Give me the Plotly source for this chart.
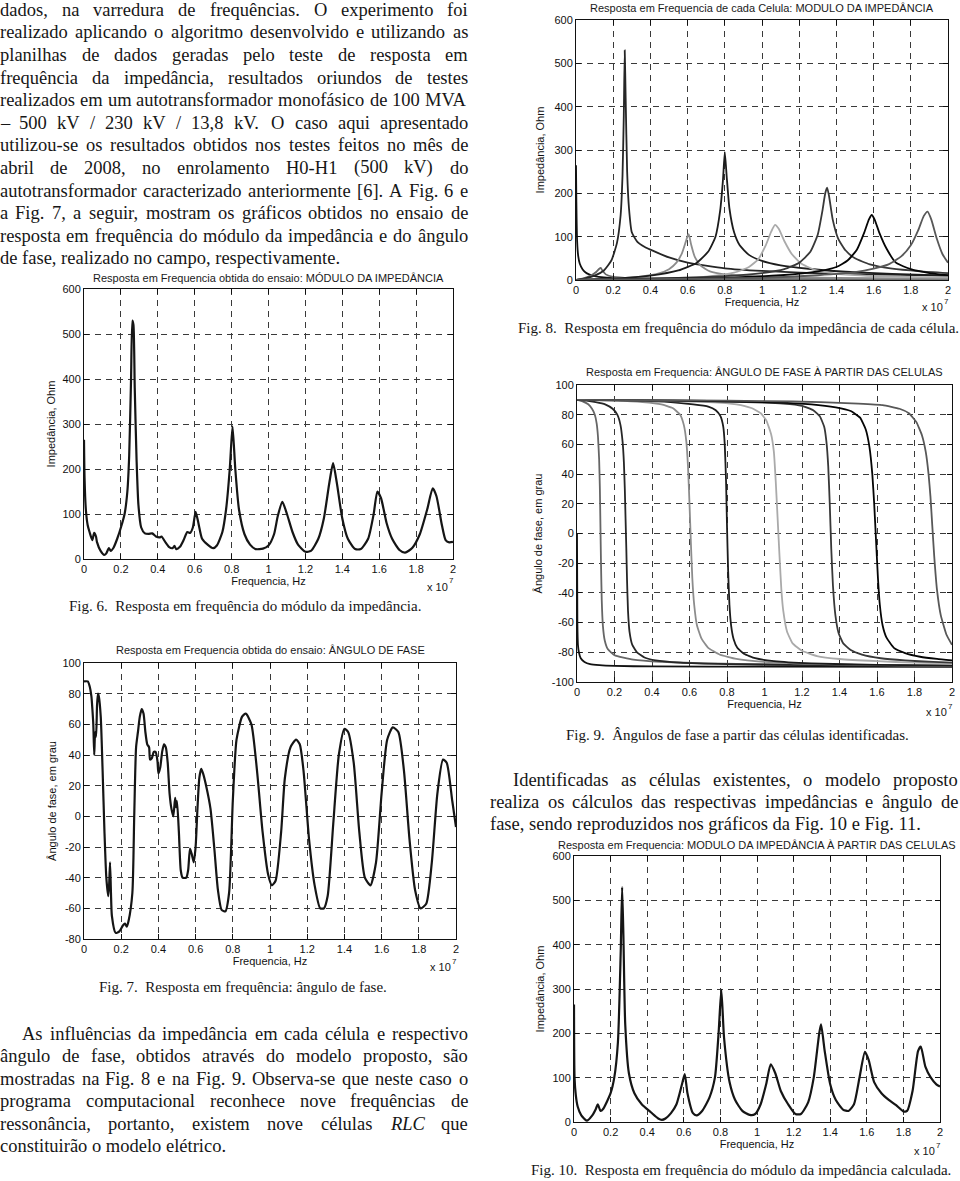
import unicodedata
import plotly.graph_objects as go

W, H = 960, 1181

# ---------------- data (frequency in units of 1e7 Hz) ----------------
xtick_vals = [0, 0.2, 0.4, 0.6, 0.8, 1.0, 1.2, 1.4, 1.6, 1.8, 2.0]
xtick_text = ["0", "0.2", "0.4", "0.6", "0.8", "1", "1.2", "1.4", "1.6", "1.8", "2"]
ytick_imp = [0, 100, 200, 300, 400, 500, 600]
ytick_ang7 = [-80, -60, -40, -20, 0, 20, 40, 60, 80, 100]
ytick_ang9 = [-100, -80, -60, -40, -20, 0, 20, 40, 60, 80, 100]

# Fig. 6 measured impedance magnitude
f6 = [0, 0.003, 0.01, 0.02, 0.03, 0.045, 0.055, 0.065, 0.07, 0.09, 0.11, 0.12, 0.135, 0.145,
      0.16, 0.18, 0.2, 0.22, 0.235, 0.245, 0.255, 0.262, 0.268, 0.275, 0.285, 0.295, 0.31,
      0.33, 0.35, 0.37, 0.39, 0.41, 0.42, 0.44, 0.46, 0.48, 0.49, 0.5, 0.52, 0.54, 0.56,
      0.575, 0.59, 0.605, 0.62, 0.64, 0.67, 0.7, 0.72, 0.75, 0.77, 0.79, 0.805, 0.82, 0.84,
      0.87, 0.9, 0.93, 0.97, 1.0, 1.03, 1.05, 1.075, 1.1, 1.13, 1.16, 1.2, 1.23, 1.27, 1.3,
      1.33, 1.35, 1.37, 1.4, 1.43, 1.47, 1.5, 1.54, 1.57, 1.59, 1.61, 1.64, 1.67, 1.71, 1.74,
      1.78, 1.82, 1.86, 1.89, 1.91, 1.94, 1.96, 1.98, 2.0]
z6 = [265, 180, 110, 75, 60, 42, 58, 50, 38, 18, 9, 12, 24, 18,
      25, 45, 70, 100, 150, 230, 400, 530, 520, 380, 220, 120, 70,
      57, 56, 57, 50, 48, 50, 38, 27, 24, 29, 22, 27, 42, 60,
      58, 70, 105, 80, 45, 32, 24, 30, 60, 110, 200, 295, 200, 110,
      55, 32, 22, 23, 30, 55, 95, 127, 100, 60, 32, 16, 18, 45, 90,
      170, 213, 170, 90, 45, 22, 22, 45, 100, 150, 135, 80, 45, 20, 14,
      25, 55, 110, 157, 140, 75, 42, 37, 38]

# Fig. 7 measured phase angle
f7 = [0, 0.02, 0.03, 0.04, 0.045, 0.05, 0.055, 0.06, 0.065, 0.07, 0.075, 0.08, 0.09, 0.1,
      0.11, 0.12, 0.13, 0.135, 0.14, 0.145, 0.15, 0.17, 0.19, 0.21, 0.22, 0.23, 0.24, 0.26,
      0.27, 0.28, 0.29, 0.3, 0.31, 0.32, 0.33, 0.34, 0.35, 0.355, 0.365, 0.375, 0.385, 0.395,
      0.4, 0.41, 0.42, 0.43, 0.44, 0.45, 0.46, 0.47, 0.48, 0.49, 0.495, 0.5, 0.51, 0.52, 0.53,
      0.55, 0.56, 0.57, 0.58, 0.59, 0.6, 0.61, 0.62, 0.63, 0.64, 0.66, 0.68, 0.7, 0.72, 0.74,
      0.76, 0.78, 0.8, 0.82, 0.85, 0.87, 0.9, 0.93, 0.96, 0.99, 1.01, 1.03, 1.06, 1.08, 1.11,
      1.14, 1.16, 1.18, 1.21, 1.24, 1.27, 1.29, 1.31, 1.34, 1.37, 1.4, 1.42, 1.45, 1.48, 1.51,
      1.54, 1.57, 1.6, 1.63, 1.66, 1.69, 1.72, 1.75, 1.78, 1.81, 1.84, 1.87, 1.9, 1.93, 1.95,
      1.98, 2.0]
a7 = [88, 88, 85, 78, 70, 60, 40, 55, 52, 72, 80, 78, 65, 30,
      -10, -40, -52, -45, -30, -50, -65, -76, -75, -71, -70, -72, -68, -50,
      0, 45, 55, 65, 70, 67, 55, 47, 45, 37, 38, 42, 42, 36,
      28, 32, 42, 47, 45, 35, 15, 5, 0, 12, 6, 10, -10, -35, -40,
      -40, -35, -21, -25, -30, -20, 5, 25, 31, 28, 18, 5, -20, -48, -61,
      -62, -50, 10, 50, 65, 67, 60, 30, -10, -38, -45, -42, -10, 25, 45,
      50, 47, 30, -15, -45, -60, -60, -52, -5, 40, 57, 55, 35, -10, -40,
      -45, -30, 15, 50, 58, 55, 30, -15, -48, -60, -57, -30, 15, 37, 35,
      10, -7]

# Fig. 8 impedance of each identified cell
c1_f = [0, 0.002, 0.006, 0.012, 0.02, 0.035, 0.05, 0.07, 0.1, 0.15, 0.25, 0.4, 0.7, 1.0, 1.5, 2.0]
c1_z = [265, 180, 90, 55, 38, 25, 18, 13, 9, 6, 4, 3, 2, 1.5, 1, 0.8]
c2_f = [0, 0.04, 0.08, 0.11, 0.125, 0.133, 0.14, 0.16, 0.2, 0.3, 0.5, 1.0, 2.0]
c2_z = [0, 4, 10, 19, 26, 28, 23, 13, 7, 4, 2.5, 1.5, 1]
c3_f = [0, 0.05, 0.1, 0.15, 0.19, 0.22, 0.24, 0.25, 0.257, 0.262, 0.267, 0.275, 0.285, 0.3,
        0.33, 0.37, 0.4, 0.5, 0.6, 0.8, 1.0, 1.4, 2.0]
c3_z = [0, 4, 10, 22, 45, 85, 150, 240, 380, 530, 420, 250, 165, 110,
        88, 76, 70, 52, 40, 27, 21, 14, 10]
c4_f = [0, 0.2, 0.35, 0.45, 0.5, 0.54, 0.57, 0.59, 0.6, 0.605, 0.61, 0.62, 0.64, 0.67, 0.72,
        0.8, 0.95, 1.2, 1.6, 2.0]
c4_z = [0, 3, 8, 16, 25, 40, 62, 88, 102, 106, 100, 80, 52, 33, 20, 13, 9, 6, 4, 3]
c5_f = [0, 0.2, 0.4, 0.55, 0.65, 0.71, 0.75, 0.775, 0.79, 0.8, 0.81, 0.825, 0.85, 0.88, 0.93,
        1.0, 1.1, 1.25, 1.45, 1.7, 2.0]
c5_z = [0, 3, 10, 22, 40, 65, 100, 160, 230, 295, 240, 165, 110, 80, 58, 44, 34, 26, 19, 14, 10]
c6_f = [0, 0.4, 0.7, 0.85, 0.93, 0.98, 1.02, 1.05, 1.07, 1.09, 1.12, 1.16, 1.21, 1.28, 1.4, 1.6, 2.0]
c6_z = [0, 3, 8, 17, 30, 48, 80, 112, 127, 118, 90, 60, 38, 24, 14, 9, 6]
c7_f = [0, 0.5, 0.8, 1.0, 1.12, 1.2, 1.26, 1.3, 1.325, 1.34, 1.35, 1.36, 1.38, 1.41, 1.45,
        1.5, 1.58, 1.7, 1.85, 2.0]
c7_z = [0, 4, 9, 16, 25, 40, 65, 105, 160, 200, 213, 195, 140, 95, 68, 50, 36, 26, 20, 16]
c8_f = [0, 0.8, 1.1, 1.3, 1.4, 1.46, 1.51, 1.55, 1.575, 1.59, 1.605, 1.63, 1.67, 1.72, 1.8, 1.9, 2.0]
c8_z = [0, 5, 11, 20, 30, 45, 70, 110, 140, 150, 140, 110, 72, 40, 25, 16, 11]
c9_f = [0, 1.0, 1.3, 1.5, 1.6, 1.68, 1.75, 1.8, 1.84, 1.87, 1.89, 1.91, 1.94, 1.97, 2.0]
c9_z = [0, 5, 11, 18, 26, 36, 55, 80, 115, 148, 158, 140, 95, 60, 40]

# Fig. 9 phase angle of each identified cell
p1_f = [0, 0.002, 0.005, 0.01, 0.02, 0.04, 0.07, 0.12, 0.2, 0.4, 1.0, 2.0]
p1_a = [0, -60, -75, -80, -84, -86.5, -88, -88.7, -89.2, -89.5, -89.7, -89.8]
p2_f = [0, 0.03, 0.06, 0.08, 0.095, 0.105, 0.112, 0.118, 0.122, 0.125, 0.128, 0.132, 0.138,
        0.148, 0.165, 0.2, 0.3, 0.45, 0.7, 1.0, 1.5, 2.0]
p2_a = [90, 89, 87, 84, 80, 74, 65, 50, 30, 5, -20, -45, -62, -72, -78, -82, -85, -86.5,
        -87.5, -88, -88.5, -89]
p3_f = [0, 0.05, 0.1, 0.15, 0.19, 0.215, 0.232, 0.243, 0.25, 0.255, 0.259, 0.263, 0.267,
        0.272, 0.28, 0.295, 0.32, 0.36, 0.42, 0.55, 0.8, 1.2, 2.0]
p3_a = [90, 89.5, 88.5, 87, 84, 80, 73, 62, 48, 30, 10, -10, -32, -52, -66, -75, -80, -83.5,
        -85.5, -87, -88, -88.7, -89.3]
p4_f = [0, 0.2, 0.35, 0.45, 0.51, 0.55, 0.57, 0.583, 0.592, 0.6, 0.607, 0.615, 0.625, 0.64,
        0.665, 0.7, 0.76, 0.85, 1.0, 1.3, 1.7, 2.0]
p4_a = [90, 89.5, 88.5, 87, 84.5, 80, 73, 62, 45, 20, -5, -30, -48, -62, -71, -77, -81.5,
        -84.5, -86.5, -88, -88.8, -89.2]
p5_f = [0, 0.3, 0.5, 0.62, 0.7, 0.74, 0.765, 0.78, 0.788, 0.795, 0.8, 0.806, 0.813, 0.822,
        0.835, 0.855, 0.89, 0.95, 1.05, 1.25, 1.6, 2.0]
p5_a = [90, 89.5, 88.5, 87, 85.5, 83, 79, 72, 60, 35, 5, -25, -48, -62, -71, -77, -81, -84,
        -86, -87.5, -88.5, -89]
p6_f = [0, 0.4, 0.7, 0.85, 0.93, 0.98, 1.01, 1.035, 1.05, 1.06, 1.07, 1.08, 1.09, 1.1, 1.12,
        1.15, 1.2, 1.28, 1.4, 1.6, 1.8, 2.0]
p6_a = [90, 89.5, 88.5, 87, 84.5, 81, 76, 67, 55, 35, 10, -15, -38, -52, -66, -74, -79,
        -82.5, -84.5, -86, -87, -87.5]
p7_f = [0, 0.5, 0.9, 1.1, 1.2, 1.26, 1.295, 1.318, 1.33, 1.34, 1.348, 1.356, 1.365, 1.378,
        1.395, 1.42, 1.46, 1.52, 1.62, 1.75, 1.9, 2.0]
p7_a = [90, 89.5, 88.5, 87.5, 86, 83, 79, 72, 62, 45, 20, -10, -35, -55, -67, -74, -78.5,
        -81.5, -84, -85.5, -86.5, -87]
p8_f = [0, 0.6, 1.0, 1.25, 1.38, 1.46, 1.51, 1.54, 1.56, 1.575, 1.585, 1.595, 1.605, 1.615,
        1.63, 1.65, 1.69, 1.75, 1.83, 1.92, 2.0]
p8_a = [90, 89.5, 88.5, 87, 85, 82.5, 78, 70, 58, 40, 20, -5, -30, -48, -62, -70, -77,
        -80.5, -83, -84.5, -85.5]
p9_f = [0, 0.6, 1.0, 1.3, 1.5, 1.63, 1.72, 1.77, 1.81, 1.84, 1.86, 1.875, 1.885, 1.895,
        1.905, 1.92, 1.94, 1.97, 2.0]
p9_a = [90, 89.7, 89.2, 88.5, 87.5, 86.5, 84, 81, 75, 66, 55, 40, 25, 5, -15, -38, -55, -68, -75]

# Fig. 10 calculated impedance magnitude
f10 = [0, 0.003, 0.01, 0.02, 0.04, 0.07, 0.1, 0.12, 0.13, 0.145, 0.16, 0.2, 0.22, 0.24,
       0.255, 0.263, 0.27, 0.28, 0.3, 0.33, 0.37, 0.42, 0.46, 0.48, 0.5, 0.53, 0.56, 0.59,
       0.605, 0.62, 0.65, 0.67, 0.7, 0.74, 0.77, 0.79, 0.805, 0.82, 0.85, 0.88, 0.92, 0.96,
       0.99, 1.02, 1.05, 1.075, 1.1, 1.13, 1.17, 1.21, 1.24, 1.28, 1.31, 1.34, 1.35, 1.37,
       1.4, 1.43, 1.47, 1.5, 1.53, 1.56, 1.59, 1.61, 1.64, 1.68, 1.72, 1.76, 1.8, 1.82,
       1.85, 1.88, 1.895, 1.92, 1.95, 1.98, 2.0]
z10 = [265, 100, 60, 35, 15, 3, 15, 30, 40, 25, 30, 65, 100, 180,
       380, 530, 420, 220, 110, 65, 40, 22, 8, 5, 8, 20, 40, 85,
       108, 65, 20, 15, 25, 55, 100, 200, 298, 190, 90, 50, 25, 16,
       18, 40, 85, 130, 110, 70, 40, 18, 18, 45, 100, 200, 220, 160,
       85, 50, 28, 25, 40, 100, 158, 140, 90, 65, 50, 38, 24, 25,
       70, 160, 170, 125, 100, 85, 80]

# --------------- page text ---------------
para_top = [
    "dados, na varredura de frequências. O experimento foi",
    "realizado aplicando o algoritmo desenvolvido e utilizando as",
    "planilhas de dados geradas pelo teste de resposta em",
    "frequência da impedância, resultados oriundos de testes",
    "realizados em um autotransformador monofásico de 100 MVA",
    "– 500 kV / 230 kV / 13,8 kV. O caso aqui apresentado",
    "utilizou-se os resultados obtidos nos testes feitos no mês de",
    "abril de 2008, no enrolamento H0-H1 (500 kV) do",
    "autotransformador caracterizado anteriormente [6]. A Fig. 6 e",
    "a Fig. 7, a seguir, mostram os gráficos obtidos no ensaio de",
    "resposta em frequência do módulo da impedância e do ângulo",
    "de fase, realizado no campo, respectivamente.",
]
para_bottom = [
    "As influências da impedância em cada célula e respectivo",
    "ângulo de fase, obtidos através do modelo proposto, são",
    "mostradas na Fig. 8 e na Fig. 9. Observa-se que neste caso o",
    "programa computacional reconhece nove frequências de",
    "ressonância, portanto, existem nove células *RLC* que",
    "constituirão o modelo elétrico.",
]
para_right = [
    "Identificadas as células existentes, o modelo proposto",
    "realiza os cálculos das respectivas impedâncias e ângulo de",
    "fase, sendo reproduzidos nos gráficos da Fig. 10 e Fig. 11.",
]
cap6 = "Fig. 6.\u00a0 Resposta em frequência do módulo da impedância."
cap7 = "Fig. 7.\u00a0 Resposta em frequência: ângulo de fase."
cap8 = "Fig. 8.\u00a0 Resposta em frequência do módulo da impedância de cada célula."
cap9 = "Fig. 9.\u00a0 Ângulos de fase a partir das células identificadas."
cap10 = "Fig. 10.\u00a0 Resposta em frequência do módulo da impedância calculada."

title6 = "Resposta em Frequencia obtida do ensaio: MÓDULO DA IMPEDÂNCIA"
title7 = "Resposta em Frequencia obtida do ensaio: ÂNGULO DE FASE"
title8 = "Resposta em Frequencia de cada Celula: MODULO DA IMPEDÂNCIA"
title9 = "Resposta em Frequencia: ÂNGULO DE FASE À PARTIR DAS CELULAS"
title10 = "Resposta em Frequencia: MODULO DA IMPEDÂNCIA À PARTIR DAS CELULAS"
xlabel = "Frequencia, Hz"
ylabel_imp = "Impedância, Ohm"
ylabel_ang = "Ângulo de fase, em grau"
xexp_base = "x 10"
xexp_pow = "7"

# --------------- helpers ---------------
def X(px):
    return px / W


def Y(py):
    return 1 - py / H


SERIF = "Liberation Serif, Times New Roman, serif"
SANS = "Liberation Sans, Arial, sans-serif"
TXT = "#161616"

TIMES = {' ': 250, 'a': 444, 'b': 500, 'c': 444, 'd': 500, 'e': 444, 'f': 333, 'g': 500,
         'h': 500, 'i': 278, 'j': 278, 'k': 500, 'l': 278, 'm': 778, 'n': 500, 'o': 500,
         'p': 500, 'q': 500, 'r': 333, 's': 389, 't': 278, 'u': 500, 'v': 500, 'w': 722,
         'x': 500, 'y': 500, 'z': 444, 'A': 722, 'B': 667, 'C': 667, 'D': 722, 'E': 611,
         'F': 556, 'G': 722, 'H': 722, 'I': 333, 'J': 389, 'K': 722, 'L': 611, 'M': 889,
         'N': 722, 'O': 722, 'P': 556, 'Q': 722, 'R': 667, 'S': 556, 'T': 611, 'U': 722,
         'V': 722, 'W': 944, 'X': 722, 'Y': 722, 'Z': 611, ',': 250, '.': 250, '-': 333,
         '–': 500, '/': 278, '(': 333, ')': 333, '[': 333, ']': 333, ':': 278}
for d in "0123456789":
    TIMES[d] = 500
ITALIC = {'R': 611, 'L': 556, 'C': 667}


def word_width(w, fs):
    if w.startswith('*') and w.endswith('*'):
        return sum(ITALIC.get(c, 500) for c in w[1:-1]) * fs / 1000
    tot = 0
    for c in w:
        base = unicodedata.normalize('NFD', c)[0]
        tot += TIMES.get(base, 500)
    return tot * fs / 1000


def fmt_word(w):
    if w.startswith('*') and w.endswith('*'):
        return "<i>" + w[1:-1] + "</i>"
    return w


annotations = []


def ann(x, y, text, size, family=SANS, xanchor='center', yanchor='middle', angle=0, color=TXT):
    annotations.append(dict(x=x, y=y, xref='paper', yref='paper', text=text, showarrow=False,
                            xanchor=xanchor, yanchor=yanchor, textangle=angle,
                            borderpad=0, borderwidth=0,
                            font=dict(family=family, size=size, color=color)))


def paragraph(lines, x0, x1, base0, dy, fs, indent):
    for i, line in enumerate(lines):
        base = base0 + i * dy
        left = x0 + (indent if i == 0 else 0)
        yc = Y(base - 0.12 * fs)
        words = line.split(' ')
        if i == len(lines) - 1 or len(words) < 2:
            ann(X(left), yc, ' '.join(fmt_word(w) for w in words), fs, SERIF, 'left')
            continue
        widths = [word_width(w, fs) for w in words]
        gap = (x1 - left - sum(widths)) / (len(words) - 1)
        x = left
        for w, wd in zip(words, widths):
            ann(X(x), yc, fmt_word(w), fs, SERIF, 'left')
            x += wd + gap


BODY_FS = 18.5
paragraph(para_top, 0, 468, 12, 22.6, BODY_FS, 0)
paragraph(para_bottom, 0, 468, 1036, 22.5, BODY_FS, 22)
paragraph(para_right, 490, 958, 782, 22.1, BODY_FS, 23)

CAP_FS = 15
for cap, cx, base in [(cap6, 245, 610), (cap7, 243, 991.5), (cap8, 738, 332),
                      (cap9, 737, 740), (cap10, 741, 1174)]:
    ann(X(cx), Y(base - 0.3 * CAP_FS), cap, CAP_FS, SERIF, 'center')

# --------------- axes ---------------
panels = [
    dict(l=84, r=453, t=289, b=559, yr=[0, 600], yt=ytick_imp, title=title6, yl=ylabel_imp,
         ty=278, xey=587, xso=2, yso=4),
    dict(l=84, r=456, t=663, b=939, yr=[-80, 100], yt=ytick_ang7, title=title7, yl=ylabel_ang,
         ty=650, xey=967, xso=2, yso=3),
    dict(l=576, r=948, t=20, b=280, yr=[0, 600], yt=ytick_imp, title=title8, yl=ylabel_imp,
         ty=7.5, xey=307.5, xso=2, yso=7),
    dict(l=577, r=952, t=385, b=682, yr=[-100, 100], yt=ytick_ang9, title=title9, yl=ylabel_ang,
         ty=371.5, xey=712, xso=2, yso=6),
    dict(l=574, r=940, t=856, b=1122, yr=[0, 600], yt=ytick_imp, title=title10, yl=ylabel_imp,
         ty=845, xey=1151, xso=2, yso=5),
]

AX_FS = 11
AXFONT = dict(family=SANS, size=AX_FS, color='#111')
layout_axes = {}
for i, p in enumerate(panels, start=1):
    sx = '' if i == 1 else str(i)
    common = dict(ticks='inside', ticklen=5, tickcolor='#111', tickwidth=1, showline=True,
                  linecolor='#111', linewidth=1, mirror='ticks', showgrid=True,
                  gridcolor='#3a3a3a', griddash='6px,5px', gridwidth=1, zeroline=False,
                  tickfont=AXFONT, fixedrange=True, automargin=False)
    layout_axes['xaxis' + sx] = dict(domain=[X(p['l']), X(p['r'])], anchor='y' + sx,
                                     range=[0, 2], tickmode='array', tickvals=xtick_vals,
                                     ticktext=xtick_text,
                                     title=dict(text=xlabel, font=AXFONT, standoff=p['xso']),
                                     **common)
    layout_axes['yaxis' + sx] = dict(domain=[Y(p['b']), Y(p['t'])], anchor='x' + sx,
                                     range=p['yr'], tickmode='array', tickvals=p['yt'],
                                     ticktext=[str(v) for v in p['yt']],
                                     title=dict(text=p['yl'], font=AXFONT, standoff=p['yso']),
                                     **common)
    cx = (p['l'] + p['r']) / 2
    ann(X(cx), Y(p['ty']), p['title'], AX_FS, SANS, 'center', color='#1a1a1a')
    ann(X(p['r'] - 5), Y(p['xey']), xexp_base, AX_FS, SANS, 'right')
    ann(X(p['r'] - 4.5), Y(p['xey'] - 6), xexp_pow, 8, SANS, 'left')

# --------------- traces ---------------
fig = go.Figure()
DARK = '#151515'
SM = dict(shape='spline', smoothing=0.6)
fig.add_trace(go.Scatter(x=f6, y=z6, mode='lines', line=dict(color=DARK, width=2.2, **SM),
                         xaxis='x', yaxis='y'))
fig.add_trace(go.Scatter(x=f7, y=a7, mode='lines', line=dict(color=DARK, width=2.2, **SM),
                         xaxis='x2', yaxis='y2'))

cell_colors = ['#111111', '#666666', '#262626', '#8c8c8c', '#1c1c1c', '#aaaaaa',
               '#383838', '#050505', '#585858']
cells8 = [(c1_f, c1_z), (c2_f, c2_z), (c3_f, c3_z), (c4_f, c4_z), (c5_f, c5_z),
          (c6_f, c6_z), (c7_f, c7_z), (c8_f, c8_z), (c9_f, c9_z)]
cells9 = [(p1_f, p1_a), (p2_f, p2_a), (p3_f, p3_a), (p4_f, p4_a), (p5_f, p5_a),
          (p6_f, p6_a), (p7_f, p7_a), (p8_f, p8_a), (p9_f, p9_a)]
for (fx, fy), col in zip(cells8, cell_colors):
    fig.add_trace(go.Scatter(x=fx, y=fy, mode='lines',
                             line=dict(color=col, width=1.8, shape='spline', smoothing=0.5),
                             xaxis='x3', yaxis='y3'))
for (fx, fy), col in zip(cells9, cell_colors):
    fig.add_trace(go.Scatter(x=fx, y=fy, mode='lines',
                             line=dict(color=col, width=1.8, shape='spline', smoothing=0.4),
                             xaxis='x4', yaxis='y4'))
fig.add_trace(go.Scatter(x=f10, y=z10, mode='lines', line=dict(color=DARK, width=2.2, **SM),
                         xaxis='x5', yaxis='y5'))

fig.update_layout(width=W, height=H, margin=dict(l=0, r=0, t=0, b=0),
                  paper_bgcolor='white', plot_bgcolor='white', showlegend=False,
                  annotations=annotations, **layout_axes)

fig.write_html("out.html", config=dict(displayModeBar=False))
